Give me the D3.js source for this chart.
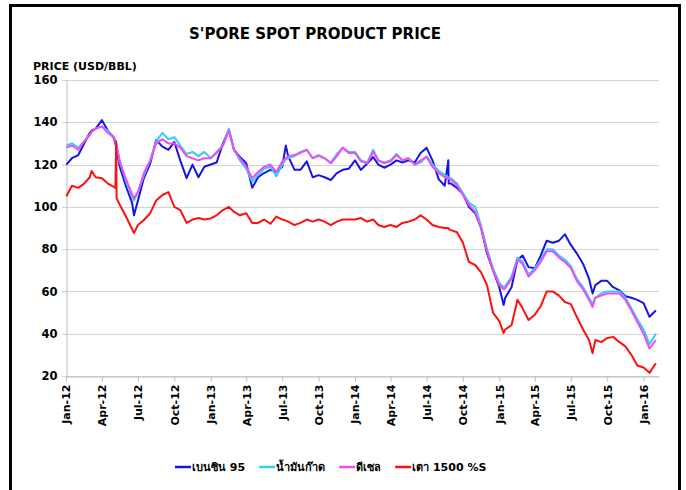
<!DOCTYPE html>
<html>
<head>
<meta charset="utf-8">
<script src="https://cdn.jsdelivr.net/npm/d3@7"></script>
<style>
  body { margin: 0; background: #fff; }
  text { font-family: "DejaVu Sans", "Noto Sans", sans-serif; font-weight: bold; fill: #000; }
</style>
</head>
<body>
<div id="chart"></div>
<script>
// semi-monthly readings (plus a few turning points), 2012-01 .. 2016-02, USD/BBL
var dates = [
  "2012-01-02","2012-01-16","2012-02-01","2012-02-16","2012-03-01","2012-03-06","2012-03-16","2012-04-01","2012-04-16","2012-05-01","2012-05-05","2012-05-07","2012-05-08","2012-05-16","2012-06-01","2012-06-16","2012-06-21","2012-07-01","2012-07-16","2012-08-01","2012-08-16","2012-09-01","2012-09-16","2012-10-01","2012-10-16","2012-11-01","2012-11-16","2012-12-01","2012-12-16",
  "2013-01-01","2013-01-16","2013-02-01","2013-02-16","2013-03-01","2013-03-16","2013-04-01","2013-04-16","2013-05-01","2013-05-16","2013-06-01","2013-06-16","2013-07-01","2013-07-10","2013-07-16","2013-08-01","2013-08-16","2013-09-01","2013-09-16","2013-10-01","2013-10-16","2013-11-01","2013-11-16","2013-12-01","2013-12-16",
  "2014-01-01","2014-01-16","2014-02-01","2014-02-16","2014-03-01","2014-03-16","2014-04-01","2014-04-16","2014-05-01","2014-05-16","2014-06-01","2014-06-16","2014-07-01","2014-07-16","2014-08-01","2014-08-16","2014-08-25","2014-08-26","2014-09-01","2014-09-16","2014-10-01","2014-10-16","2014-11-01","2014-11-16","2014-12-01","2014-12-16",
  "2015-01-01","2015-01-12","2015-01-16","2015-02-01","2015-02-16","2015-03-01","2015-03-16","2015-04-01","2015-04-16","2015-05-01","2015-05-16","2015-06-01","2015-06-16","2015-07-01","2015-07-16","2015-08-01","2015-08-16","2015-08-25","2015-09-01","2015-09-16","2015-10-01","2015-10-16","2015-11-01","2015-11-16","2015-12-01","2015-12-16",
  "2016-01-01","2016-01-16","2016-02-01"
];

var gasoline95 = [
  120, 123, 124.5, 130, 135, 136, 137, 141, 136, 132.5, 130, 128, 127, 119, 109.5, 102, 96, 103, 113.6, 120.5, 131.6, 128.5, 127, 130.7, 122, 113.6, 120, 114, 119,
  120, 121, 130, 136.4, 127, 123.6, 120.6, 109, 114, 116, 117.5, 116.5, 119, 129, 124, 117.5, 117.5, 121.5, 114, 115, 114, 112.7, 116, 117.5, 118,
  122, 117.5, 120.5, 123.6, 120, 118.5, 120, 122, 121, 122, 121, 125.5, 128, 122, 113, 110, 122, 111, 111, 109, 106, 100, 97, 90, 78, 70,
  62, 53.6, 57, 62, 75, 77, 71.5, 71, 77, 84, 83, 84, 87, 82, 78, 73, 66, 59, 63, 65, 65, 62, 60.5, 57.7, 57, 56,
  54.5, 48, 51
];

var kerosene = [
  129, 130, 128, 131, 134, 135.5, 137, 138, 136, 133, 131, 130, 129, 122, 112, 105, 103, 107, 115, 122, 131, 135, 132, 133, 129, 125, 126, 124, 126,
  123, 126, 129, 137, 127, 122, 118, 112, 115, 118, 119, 114.5, 120, 122.5, 123, 124, 126, 127, 123, 124, 123, 121, 125, 128, 126,
  126, 122, 121, 127, 122, 121, 122, 125, 122, 123, 120, 121, 124, 120, 117, 115, 114, 113.5, 113.5, 111, 106.5, 102, 100, 91, 80, 71,
  64, 62, 62.5, 67, 76, 74, 68, 71, 75, 80, 80, 77, 75, 72, 66, 62, 57, 54, 57, 59, 60, 60, 60, 57, 52, 47,
  42, 35, 40
];

var diesel = [
  128, 129, 127, 131, 134, 135.5, 137, 138, 135, 133, 131, 130, 129, 121, 113, 106, 104, 107, 116, 122, 130, 132, 130, 130, 128, 124, 123, 122, 123,
  123, 125.5, 129, 136, 127, 123, 119, 113.6, 116.5, 119, 120, 116.5, 121.5, 123, 124, 124.5, 125.5, 127, 123, 124.5, 123, 120.6, 124, 128, 125.5,
  125.5, 121.5, 120.6, 126, 122, 120.6, 121.5, 124.5, 122, 123, 120, 122, 123.6, 119, 116, 114, 113.5, 113.2, 112.7, 110.3, 105.6, 101, 97.6, 90, 79, 70,
  63, 61, 61.5, 66, 75, 73, 67, 70, 74, 79, 79, 76, 74, 71, 65, 61, 56, 52.6, 57, 58, 59, 59, 59, 56, 51, 45.5,
  40, 33, 37
];

var fuelOil = [
  105, 110, 109, 111, 114, 117, 114, 113.5, 111, 109.5, 109, 131, 104, 101, 95.3, 89.5, 87.6, 91.4, 93.8, 97, 103, 105.6, 107, 100, 98.5, 92.4, 94, 94.7, 94,
  94.5, 96, 98.5, 100, 97.6, 96, 97, 92.4, 92.4, 94, 92, 95.4, 94, 93.5, 93, 91.4, 92.4, 94, 93, 94, 93, 91.4, 93, 94, 94,
  94, 94.7, 93, 94, 91.4, 90.5, 91.4, 90.5, 92.4, 93, 94, 96, 94, 91.4, 90.5, 90, 90, 89.5, 89, 88, 83, 74, 72.5, 69, 63, 50,
  46, 40.3, 42, 44, 56, 52, 46.5, 49, 53, 60, 60, 58, 55, 54, 48, 42, 37, 30.8, 37, 36, 38, 38.5, 36, 34, 30, 25,
  24, 21.5, 26
];

var yTicks = [20, 40, 60, 80, 100, 120, 140, 160];
var seriesNames = ["เบนซิน 95", "น้ำมันก๊าด", "ดีเซล", "เตา 1500 %S"];
var seriesColors = ["#1515e6", "#33ccff", "#f04cf0", "#ff1010"];
var chartTitle = "S'PORE SPOT PRODUCT PRICE";
var yTitle = "PRICE (USD/BBL)";

var width = 686, height = 490;
var plot = {left: 66, right: 659, top: 80, bottom: 376};

var parse = d3.timeParse("%Y-%m-%d");
var when = dates.map(parse);

var svg = d3.select("#chart").append("svg")
  .attr("width", width)
  .attr("height", height);

svg.append("rect")
  .attr("x", 10.5).attr("y", 5.5)
  .attr("width", 669).attr("height", 500)
  .attr("fill", "#fff")
  .attr("stroke", "#000")
  .attr("stroke-width", 3);

var x = d3.scaleTime()
  .domain([parse("2012-01-01"), parse("2016-02-09")])
  .range([plot.left, plot.right]);

var y = d3.scaleLinear()
  .domain([20, 160])
  .range([plot.bottom, plot.top]);

// gridlines
svg.append("g")
  .selectAll("line")
  .data(yTicks)
  .join("line")
  .attr("x1", plot.left - 4)
  .attr("x2", plot.right)
  .attr("y1", function(d) { return Math.round(y(d)) + 0.5; })
  .attr("y2", function(d) { return Math.round(y(d)) + 0.5; })
  .attr("stroke", "#d4d4d4")
  .attr("stroke-width", 1);

var yAxis = svg.append("g")
  .attr("transform", "translate(" + (plot.left + 0.5) + ",0)")
  .call(d3.axisLeft(y).tickValues(yTicks).tickSize(4).tickSizeOuter(0).tickFormat(d3.format("d")));
yAxis.select(".domain").attr("stroke", "#bdbdbd");
yAxis.selectAll(".tick line").attr("stroke", "#d4d4d4");
yAxis.selectAll("text").style("font-size", "11.5px").attr("x", -9);

var xAxis = svg.append("g")
  .attr("transform", "translate(0," + (plot.bottom + 0.5) + ")")
  .call(d3.axisBottom(x).ticks(d3.timeMonth.every(3)).tickSize(5).tickSizeOuter(0).tickFormat(d3.timeFormat("%b-%y")));
xAxis.select(".domain").attr("stroke", "#bdbdbd");
xAxis.selectAll(".tick line").attr("stroke", "#bdbdbd");
xAxis.selectAll("text")
  .style("font-size", "11px")
  .style("text-anchor", "end")
  .attr("x", -8)
  .attr("y", 0)
  .attr("dy", "0.35em")
  .attr("transform", "rotate(-90)");

// lines
var line = d3.line()
  .x(function(d) { return x(d.date); })
  .y(function(d) { return y(d.v); });

[gasoline95, kerosene, diesel, fuelOil].forEach(function(vals, i) {
  if (vals.length !== when.length) console.error("length mismatch", i, vals.length, when.length);
  var pts = vals.map(function(v, j) { return {date: when[j], v: v}; });
  svg.append("path")
    .datum(pts)
    .attr("fill", "none")
    .attr("stroke", seriesColors[i])
    .attr("stroke-width", 2)
    .attr("stroke-linejoin", "round")
    .attr("d", line);
});

// titles
svg.append("text")
  .attr("x", 315).attr("y", 39)
  .attr("text-anchor", "middle")
  .style("font-size", "15px")
  .text(chartTitle);

svg.append("text")
  .attr("x", 33).attr("y", 70)
  .style("font-size", "11px")
  .text(yTitle);

// legend
var legend = svg.append("g");
var cursor = 175;
seriesNames.forEach(function(name, i) {
  legend.append("line")
    .attr("x1", cursor).attr("x2", cursor + 16)
    .attr("y1", 467).attr("y2", 467)
    .attr("stroke", seriesColors[i])
    .attr("stroke-width", 2.5);
  var t = legend.append("text")
    .attr("x", cursor + 17).attr("y", 471)
    .style("font-size", "11px")
    .text(name);
  cursor += 17 + t.node().getComputedTextLength() + 14;
});
</script>
</body>
</html>
